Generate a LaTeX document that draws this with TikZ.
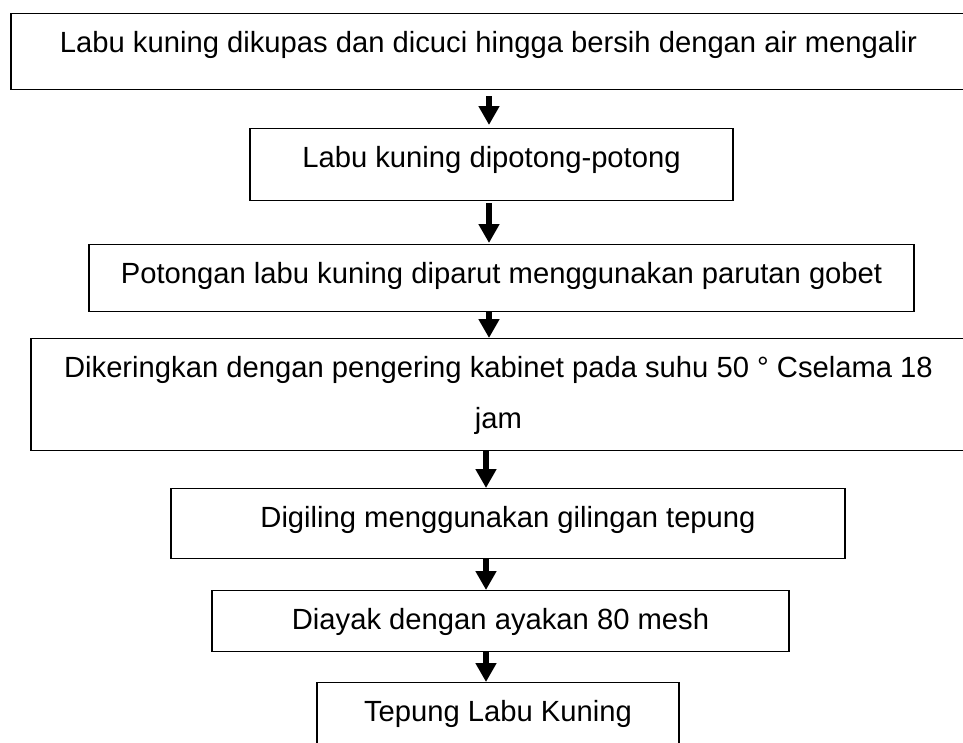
\documentclass[tikz,border=0pt]{standalone}
\usepackage{fontspec}
\setmainfont{Liberation Sans}
\usetikzlibrary{arrows.meta}
\begin{document}
\begin{tikzpicture}[x=1pt,y=-1pt,
  box/.style={draw=black, line width=1.3pt, rectangle, inner sep=0pt, anchor=north,
    font=\fontsize{29.2}{51}\selectfont, align=center, text height=39pt},
  flow/.style={line width=5.5pt, -{Triangle[width=20pt,length=19pt]}}]
\useasboundingbox (0,0) rectangle (963,742);
\node[box, minimum width=955pt, text depth=37pt] (b1) at (488.5,13) {Labu kuning dikupas dan dicuci hingga bersih dengan air mengalir};
\node[box, minimum width=483pt, text depth=33pt] (b2) at (491.5,128) {Labu kuning dipotong-potong};
\node[box, minimum width=825pt, text depth=28pt] (b3) at (501.5,244) {Potongan labu kuning diparut menggunakan parutan gobet};
\node[box, minimum width=935pt, text height=90pt, text depth=22pt] (b4) at (498.5,338) {Dikeringkan dengan pengering kabinet pada suhu 50 ° Cselama 18\\jam};
\node[box, minimum width=674pt, text depth=31pt] (b5) at (508,488) {Digiling menggunakan gilingan tepung};
\node[box, minimum width=577pt, text depth=22pt] (b6) at (500.5,590) {Diayak dengan ayakan 80 mesh};
\node[box, minimum width=362pt, text depth=40pt] (b7) at (498,682) {Tepung Labu Kuning};
\coordinate (ca) at (489,0);
\coordinate (cb) at (486,0);
\draw[flow, shorten <=6pt, shorten >=3pt] (b1.south -| ca) -- (b2.north -| ca);
\draw[flow, shorten <=2pt, shorten >=1pt] (b2.south -| ca) -- (b3.north -| ca);
\draw[flow] (b3.south -| ca) -- (b4.north -| ca);
\draw[flow] (b4.south -| cb) -- (b5.north -| cb);
\draw[flow] (b5.south -| cb) -- (b6.north -| cb);
\draw[flow] (b6.south -| cb) -- (b7.north -| cb);
\end{tikzpicture}
\end{document}
